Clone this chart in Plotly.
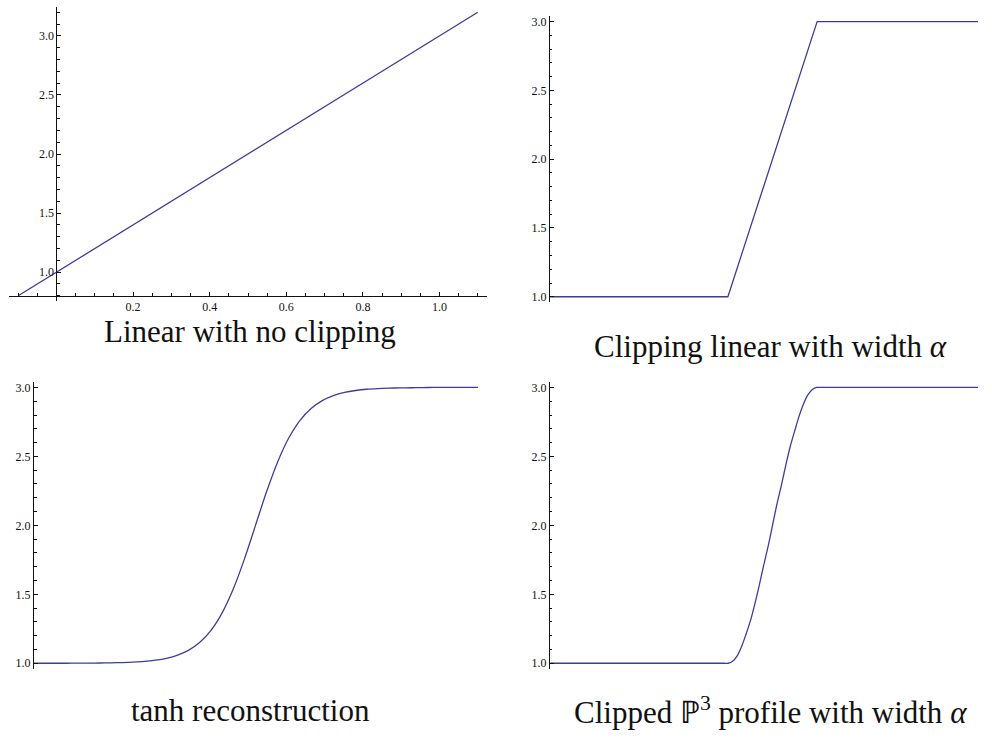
import plotly.graph_objects as go

W, H = 992, 738

# ---------------- data ----------------
lin_x = [-0.1, 1.1]
lin_y = [0.8, 3.2]

clip_x = [0.0, 0.417, 0.625, 1.0]
clip_y = [1.0, 1.0, 3.0, 3.0]

tanh_x = [i * 0.025 for i in range(41)]
tanh_y = [1.000, 1.000, 1.000, 1.000, 1.001, 1.001, 1.002, 1.003, 1.005, 1.008,
          1.013, 1.022, 1.036, 1.059, 1.095, 1.152, 1.238, 1.365, 1.538, 1.755,
          2.000, 2.245, 2.462, 2.635, 2.762, 2.848, 2.905, 2.941, 2.964, 2.978,
          2.987, 2.992, 2.995, 2.997, 2.998, 2.999, 3.000, 3.000, 3.000, 3.000, 3.000]

p3_x = [0.0, 0.300, 0.408, 0.418, 0.428, 0.439, 0.449, 0.459, 0.470, 0.480, 0.490,
        0.500, 0.511, 0.521, 0.531, 0.542, 0.552, 0.562, 0.573, 0.583, 0.593, 0.603,
        0.614, 0.624, 0.634, 0.750, 1.0]
p3_y = [1.0, 1.0, 1.0, 1.0, 1.0145, 1.056, 1.1215, 1.208, 1.3125, 1.432, 1.5635,
        1.704, 1.8505, 2.0, 2.1495, 2.296, 2.4365, 2.568, 2.6875, 2.792, 2.8785,
        2.944, 2.9855, 3.0, 3.0, 3.0, 3.0]

y_major = [1.0, 1.5, 2.0, 2.5, 3.0]
x_major = [0.2, 0.4, 0.6, 0.8, 1.0]

titles = ["Linear with no clipping",
          "Clipping linear with width <i>α</i>",
          "tanh reconstruction",
          "Clipped ℙ<sup>3</sup> profile with width <i>α</i>"]

# ---------------- layout geometry (pixels) ----------------
LINE = "#3d3d99"
AX = "#111111"
TICKFONT = dict(family="Liberation Serif", size=12, color="#111111")

# panel: (x pixel left, right, x range, y pixel top, bottom, y range)
panels = [
    (9, 487, [-0.124, 1.124], 5.6, 301.7, [0.752, 3.248]),
    (540.4, 986.6, [-0.02, 1.02], 15.2, 302.5, [0.96, 3.04]),
    (24.1, 486.9, [-0.02, 1.02], 382.5, 670.5, [0.96, 3.04]),
    (540.4, 986.6, [-0.02, 1.02], 382.5, 670.5, [0.96, 3.04]),
]
series = [(lin_x, lin_y, "linear"), (clip_x, clip_y, "linear"),
          (tanh_x, tanh_y, "spline"), (p3_x, p3_y, "spline")]

fig = go.Figure()
layout = dict(width=W, height=H, margin=dict(l=0, r=0, t=0, b=0),
              paper_bgcolor="white", plot_bgcolor="white", showlegend=False)

for i, ((xl, xr, xrng, yt, yb, yrng), (sx, sy, shape)) in enumerate(zip(panels, series)):
    n = "" if i == 0 else str(i + 1)
    xd = [xl / W, xr / W]
    yd = [1 - yb / H, 1 - yt / H]
    # y axis placed at x = 0
    ypos = xd[0] + (0 - xrng[0]) / (xrng[1] - xrng[0]) * (xd[1] - xd[0])
    # x axis placed at y = 0.8 (only the first panel shows it)
    xpos = yd[0] + (0.8 - yrng[0]) / (yrng[1] - yrng[0]) * (yd[1] - yd[0])
    fig.add_trace(go.Scatter(x=sx, y=sy, mode="lines",
                             line=dict(color=LINE, width=1.3, shape=shape, smoothing=0.8),
                             xaxis="x" + n, yaxis="y" + n, hoverinfo="skip"))
    xa = dict(domain=xd, range=xrng, showgrid=False, zeroline=False,
              fixedrange=True)
    if i == 0:
        xa.update(anchor="free", position=xpos, showline=True, linecolor=AX,
                  linewidth=1, ticks="inside", ticklen=4, tickcolor=AX,
                  tickvals=x_major, tickformat=".1f", tickfont=TICKFONT,
                  minor=dict(ticks="inside", ticklen=2.5, tick0=0, dtick=0.05,
                             tickcolor=AX, showgrid=False))
    else:
        xa.update(visible=False, anchor="y" + n)
    ya = dict(domain=yd, range=yrng, showgrid=False, zeroline=False,
              anchor="free", position=ypos, showline=True, linecolor=AX,
              linewidth=1, ticks="inside", ticklen=4, tickcolor=AX,
              tickvals=y_major, tickformat=".1f", tickfont=TICKFONT,
              minor=dict(ticks="inside", ticklen=2.5, tick0=0, dtick=0.1,
                         tickcolor=AX, showgrid=False),
              fixedrange=True)
    layout["xaxis" + n] = xa
    layout["yaxis" + n] = ya

fig.update_layout(**layout)

title_pos = [(250, 332), (770, 347), (250, 712), (770, 712)]
for t, (px, py) in zip(titles, title_pos):
    fig.add_annotation(text=t, x=px / W, y=1 - py / H, xref="paper", yref="paper",
                       showarrow=False, xanchor="center", yanchor="middle",
                       font=dict(family="Liberation Serif", size=31, color="#111111"))

fig.write_html("out.html", config=dict(displayModeBar=False))
